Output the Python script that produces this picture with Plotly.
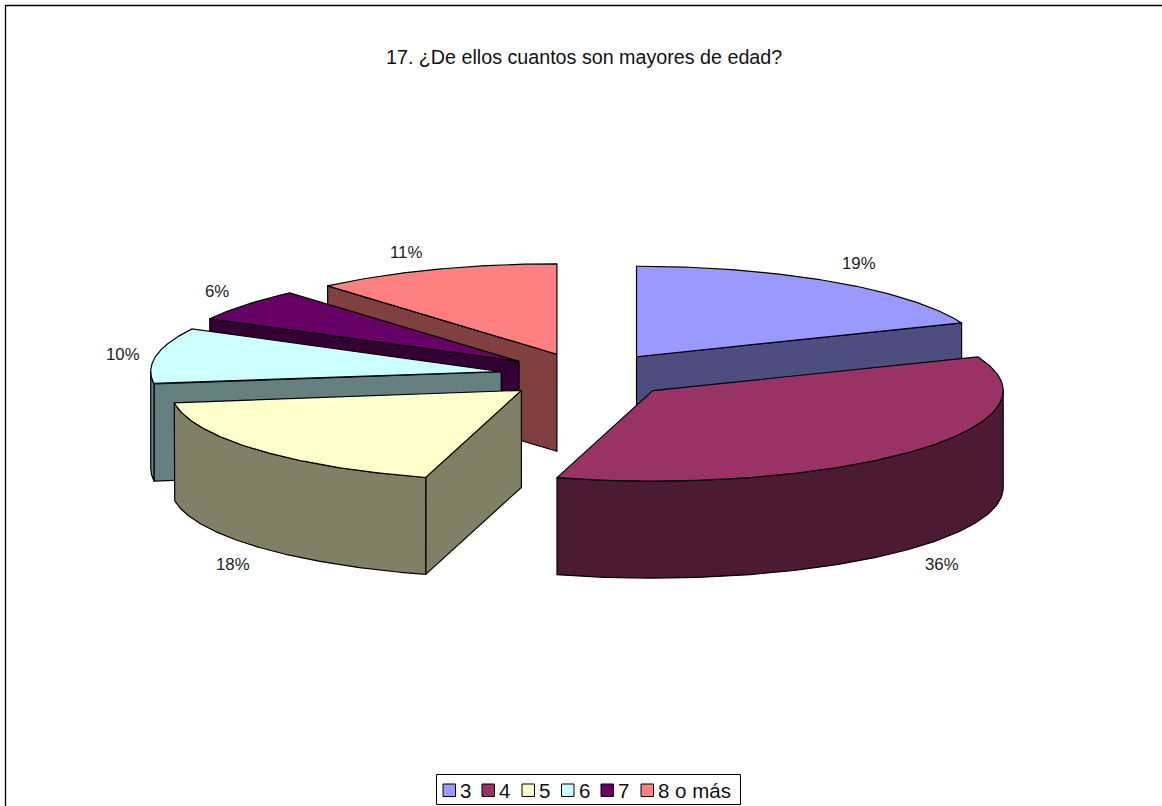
import numpy as np
import plotly.graph_objects as go

# Survey answers and their shares (percent)
categories = ["3", "4", "5", "6", "7", "8 o más"]
shares = [18.9, 35.5, 18.4, 10.0, 5.85, 11.35]
title_text = "17. ¿De ellos cuantos son mayores de edad?"

top_colors = ["#9999FF", "#993366", "#FFFFCC", "#CCFFFF", "#660066", "#FF8080"]
wall_colors = ["#4D4D80", "#4D1A33", "#808066", "#668080", "#330033", "#804040"]

# Projection of the tilted pie onto the page
CX, CY = 587.5, 375.5
RX, RY = 350.5, 90.5
DEPTH = 97
EXPLODE = 0.25
OUTLINE = dict(color="black", width=1.2)
FONT = "Liberation Sans, Arial, sans-serif"

# Back-to-front painting order
paint_order = [0, 5, 4, 3, 2, 1]
# Percent label centres, tied to each slice
label_xy = [(859, 263), (942, 564), (233, 564), (123, 354), (217, 291), (406, 252)]


def project(theta, cx, cy, r=1.0):
    return cx + r * RX * np.sin(theta), cy - r * RY * np.cos(theta)


def add_poly(fig, xs, ys, color):
    fig.add_trace(go.Scatter(
        x=xs, y=ys, mode="lines", fill="toself", fillcolor=color,
        line=OUTLINE, hoverinfo="skip", showlegend=False,
    ))


def draw_slice(fig, i, start, end):
    mid = (start + end) / 2
    ax, ay = project(mid, CX, CY, EXPLODE)
    sx, sy = project(start, ax, ay)
    ex, ey = project(end, ax, ay)

    # Cut faces that turn toward the viewer
    if np.sin(start) < 0:
        add_poly(fig, [ax, sx, sx, ax, ax],
                 [ay, sy, sy + DEPTH, ay + DEPTH, ay], wall_colors[i])
    if np.sin(end) > 1e-6:
        add_poly(fig, [ax, ex, ex, ax, ax],
                 [ay, ey, ey + DEPTH, ay + DEPTH, ay], wall_colors[i])

    # Rim: the part of the arc on the near half of the pie
    lo, hi = max(start, np.pi / 2), min(end, 3 * np.pi / 2)
    if hi > lo:
        t = np.linspace(lo, hi, 120)
        rx, ry = project(t, ax, ay)
        add_poly(fig, np.r_[rx, rx[::-1], rx[0]],
                 np.r_[ry, ry[::-1] + DEPTH, ry[0]], wall_colors[i])

    # Top surface
    t = np.linspace(start, end, 160)
    tx, ty = project(t, ax, ay)
    add_poly(fig, np.r_[ax, tx, ax], np.r_[ay, ty, ay], top_colors[i])


fig = go.Figure()
edges = np.r_[0, np.cumsum(shares)] / np.sum(shares) * 2 * np.pi
for i in paint_order:
    draw_slice(fig, i, edges[i], edges[i + 1])

annotations = [dict(
    x=583.5, y=57, text=title_text, showarrow=False, xref="x", yref="y",
    font=dict(family=FONT, size=19.7, color="#111111"),
)]
for share, (lx, ly) in zip(shares, label_xy):
    annotations.append(dict(
        x=lx, y=ly, text=f"{share:.0f}%", showarrow=False, xref="x", yref="y",
        font=dict(family=FONT, size=16.8, color="#222222"),
    ))

# Chart frame and legend box
shapes = [
    dict(type="rect", x0=5.5, y0=5.5, x1=1170, y1=820,
         line=dict(color="black", width=1.3), fillcolor="white", layer="below"),
    dict(type="rect", x0=436.5, y0=774.5, x1=740.5, y1=804.5,
         line=dict(color="black", width=1), fillcolor="white", layer="above"),
]

# Legend entries
legend_swatch_x = [443, 482, 522, 561.5, 601, 641]
for name, color, sx in zip(categories, top_colors, legend_swatch_x):
    shapes.append(dict(type="rect", x0=sx, y0=784, x1=sx + 12.5, y1=796.5,
                       line=dict(color="black", width=1), fillcolor=color,
                       layer="above"))
    annotations.append(dict(
        x=sx + 15, y=790, text=name, showarrow=False, xanchor="left",
        xref="x", yref="y", font=dict(family=FONT, size=20.5, color="#111111"),
    ))

fig.update_layout(
    width=1162, height=806,
    margin=dict(l=0, r=0, t=0, b=0),
    paper_bgcolor="white", plot_bgcolor="white",
    showlegend=False,
    xaxis=dict(range=[0, 1162], visible=False, fixedrange=True),
    yaxis=dict(range=[806, 0], visible=False, fixedrange=True),
    shapes=shapes, annotations=annotations,
)

fig.write_html("out.html", config={"displayModeBar": False})
